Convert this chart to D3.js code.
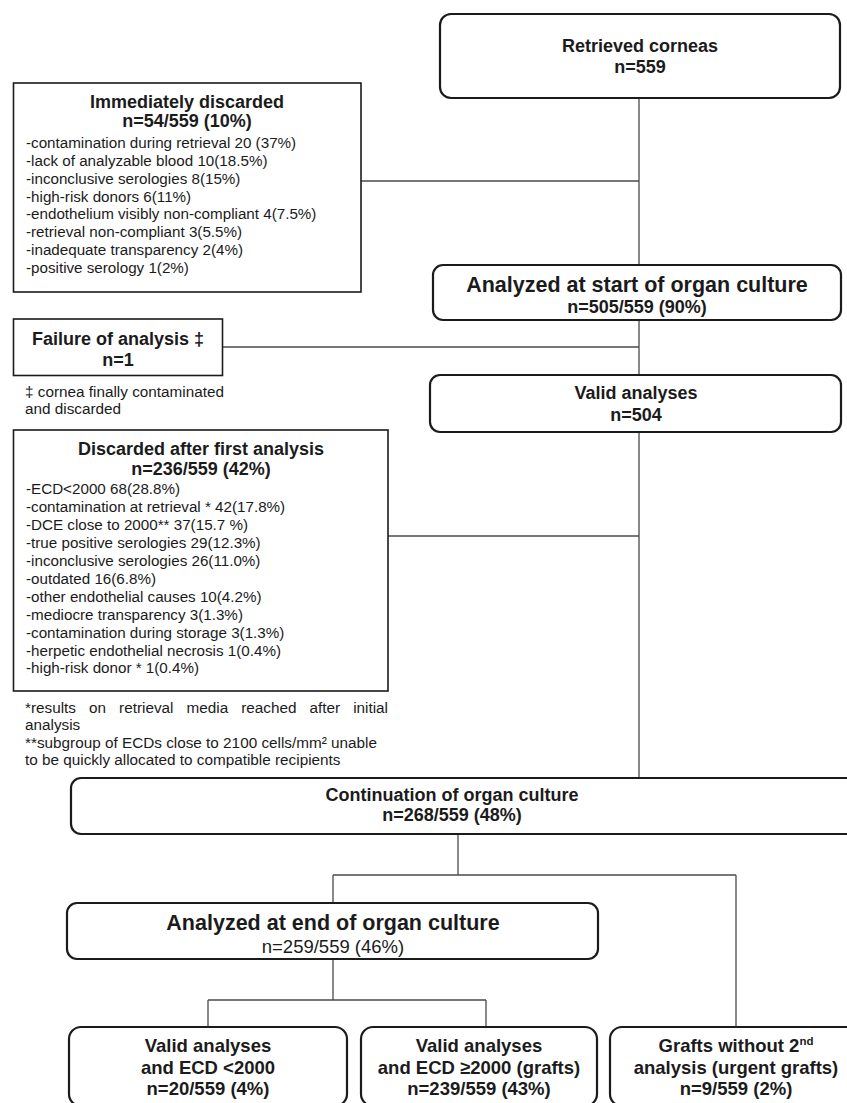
<!DOCTYPE html>
<html><head><meta charset="utf-8">
<script src="https://cdn.jsdelivr.net/npm/d3@7"></script>
<style>
html,body{margin:0;padding:0;background:#fff;}
svg{display:block;font-family:"Liberation Sans",Arial,Helvetica,sans-serif;}
</style></head><body>
<svg id="c" width="847" height="1103"></svg>
<script>
// ---------- data (texts of the flowchart) ----------
const retrieved = ["Retrieved corneas", "n=559"];
const immediateHead = ["Immediately discarded", "n=54/559 (10%)"];
const immediateReasons = [
  "-contamination during retrieval 20 (37%)",
  "-lack of analyzable blood 10(18.5%)",
  "-inconclusive serologies 8(15%)",
  "-high-risk donors 6(11%)",
  "-endothelium visibly non-compliant 4(7.5%)",
  "-retrieval non-compliant 3(5.5%)",
  "-inadequate transparency 2(4%)",
  "-positive serology 1(2%)"
];
const analyzedStart = ["Analyzed at start of organ culture", "n=505/559 (90%)"];
const failureHead = ["Failure of analysis \u2021", "n=1"];
const failureNote = ["\u2021 cornea finally contaminated", "and discarded"];
const validFirst = ["Valid analyses", "n=504"];
const afterHead = ["Discarded after first analysis", "n=236/559 (42%)"];
const afterReasons = [
  "-ECD<2000 68(28.8%)",
  "-contamination at retrieval * 42(17.8%)",
  "-DCE close to 2000** 37(15.7 %)",
  "-true positive serologies 29(12.3%)",
  "-inconclusive serologies 26(11.0%)",
  "-outdated 16(6.8%)",
  "-other endothelial causes 10(4.2%)",
  "-mediocre transparency 3(1.3%)",
  "-contamination during storage 3(1.3%)",
  "-herpetic endothelial necrosis 1(0.4%)",
  "-high-risk donor * 1(0.4%)"
];
const afterNotes = [
  "*results on retrieval media reached after initial",
  "analysis",
  "**subgroup of ECDs close to 2100 cells/mm\u00b2 unable",
  "to be quickly allocated to compatible recipients"
];
const continuation = ["Continuation of organ culture", "n=268/559 (48%)"];
const analyzedEnd = ["Analyzed at end of organ culture", "n=259/559 (46%)"];
const lowEcd = ["Valid analyses", "and ECD <2000", "n=20/559 (4%)"];
const grafts = ["Valid analyses", "and ECD \u22652000 (grafts)", "n=239/559 (43%)"];
const urgent = ["Grafts without 2^nd", "analysis (urgent grafts)", "n=9/559 (2%)"];

// ---------- layout ----------
const svg = d3.select("#c");
const INK = "#1b1b1b";

const boxes = [
  {x0:440, x1:840, y0:14,  y1:98,   r:11, sw:2.2},
  {x0:13.5,x1:361, y0:83,  y1:292,  r:0,  sw:1.6},
  {x0:433, x1:841, y0:265, y1:320,  r:10, sw:2.2},
  {x0:13.5,x1:222.5,y0:319,y1:375.5,r:0,  sw:1.6},
  {x0:430, x1:841, y0:375, y1:432,  r:10, sw:2.2},
  {x0:13.5,x1:388, y0:430, y1:691,  r:0,  sw:1.6},
  {x0:71,  x1:870, y0:778, y1:834,  r:10, sw:2.2},
  {x0:67,  x1:598, y0:903, y1:959,  r:10, sw:2.2},
  {x0:69,  x1:347, y0:1027,y1:1106, r:12, sw:2.2},
  {x0:361, x1:597, y0:1027,y1:1106, r:12, sw:2.2},
  {x0:610, x1:880, y0:1027,y1:1106, r:12, sw:2.2}
];

const connectors = [
  [[639,98],[639,265]],
  [[361,181],[639,181]],
  [[639,320],[639,375]],
  [[222.5,347],[639,347]],
  [[639,432],[639,778]],
  [[388,536],[639,536]],
  [[458,834],[458,875]],
  [[333,875],[736,875]],
  [[333,875],[333,903]],
  [[736,875],[736,1027]],
  [[333,959],[333,1000]],
  [[208,1000],[486,1000]],
  [[208,1000],[208,1027]],
  [[486,1000],[486,1027]]
];

const line = d3.line();
svg.append("g").selectAll("path").data(connectors).join("path")
  .attr("d", d => line(d)).attr("fill","none")
  .attr("stroke","#4a4a4a").attr("stroke-width",1.3);

svg.append("g").selectAll("rect").data(boxes).join("rect")
  .attr("x", d=>d.x0).attr("y", d=>d.y0)
  .attr("width", d=>d.x1-d.x0).attr("height", d=>d.y1-d.y0)
  .attr("rx", d=>d.r).attr("ry", d=>d.r)
  .attr("fill","#fff").attr("stroke",INK).attr("stroke-width", d=>d.sw);

// text helper: lines drawn with center y (cy) and anchor
const T = svg.append("g").attr("fill", INK);
function block(texts, opt) {
  const step = opt.step || 0;
  T.append("g").selectAll("text").data(texts).join("text")
    .attr("x", opt.x)
    .attr("y", (d,i) => (opt.ys ? opt.ys[i] : opt.y + i*step) + 0.36*(opt.sizes ? opt.sizes[i] : opt.size))
    .attr("text-anchor", opt.anchor || "middle")
    .attr("font-size", (d,i) => opt.sizes ? opt.sizes[i] : opt.size)
    .attr("font-weight", (d,i) => opt.weights ? opt.weights[i] : (opt.weight || "normal"))
    .each(function(d){
      const parts = d.split("^");
      const el = d3.select(this);
      el.append("tspan").text(parts[0]);
      if (parts[1]) el.append("tspan").attr("font-size","0.62em").attr("dy","-0.55em").text(parts[1]);
    });
}

block(retrieved, {x:640, ys:[46,67], size:18, weight:"bold"});
block(immediateHead, {x:187, ys:[102,121], size:18, weight:"bold"});
block(immediateReasons, {x:26, y:143, step:17.75, size:15.2, anchor:"start"});
block(analyzedStart, {x:637, ys:[284,307], sizes:[21.5,18], weight:"bold"});
block(failureHead, {x:118, ys:[339,360], size:18, weight:"bold"});
block(failureNote, {x:25, ys:[391,408], size:15.3, anchor:"start"});
block(validFirst, {x:636, ys:[393,415], size:18, weight:"bold"});
block(afterHead, {x:201, ys:[449,469], size:18, weight:"bold"});
block(afterReasons, {x:26, y:489, step:17.9, size:15.2, anchor:"start"});
block(continuation, {x:452, ys:[795,815], size:18, weight:"bold"});
block(analyzedEnd, {x:333, ys:[922,946], sizes:[21.5,18.5], weights:["bold","normal"]});
block(lowEcd, {x:208, ys:[1045,1067,1088], size:18.5, weight:"bold"});
block(grafts, {x:479, ys:[1045,1067,1088], size:18.5, weight:"bold"});
block(urgent, {x:736, ys:[1045,1067,1088], size:18.5, weight:"bold"});

// footnotes under "Discarded after first analysis" (first line justified)
const noteY = [707, 724.5, 742, 759.5];
const noteG = T.append("g").attr("font-size", 15.3);
afterNotes.forEach((s, i) => {
  const y = noteY[i] + 0.36*15.3;
  if (i === 0) {
    const words = s.split(" ");
    const ws = words.map(w => {
      const t = noteG.append("text").attr("x",0).attr("y",y).text(w);
      const len = t.node().getComputedTextLength();
      return {t, len};
    });
    const total = d3.sum(ws, d => d.len);
    const gap = (388 - 25 - total) / (words.length - 1);
    let x = 25;
    ws.forEach(d => { d.t.attr("x", x); x += d.len + gap; });
  } else {
    noteG.append("text").attr("x",25).attr("y",y).text(s);
  }
});
</script></body></html>
